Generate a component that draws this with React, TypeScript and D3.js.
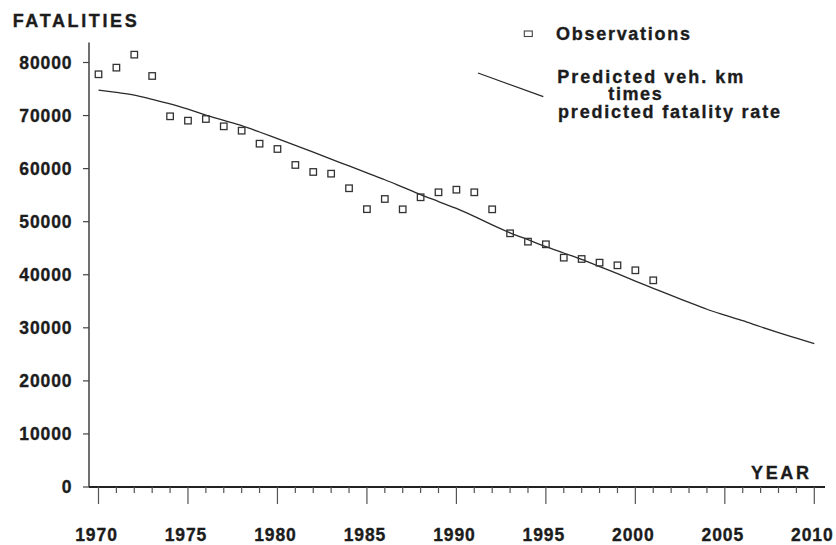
import React from "react";
import * as d3 from "d3";

const obsYears = [
  1970, 1971, 1972, 1973, 1974, 1975, 1976, 1977, 1978, 1979, 1980, 1981, 1982,
  1983, 1984, 1985, 1986, 1987, 1988, 1989, 1990, 1991, 1992, 1993, 1994, 1995,
  1996, 1997, 1998, 1999, 2000, 2001,
];
const obsValues = [
  77780, 79030, 81480, 77460, 69860, 69040, 69350, 67970, 67150, 64700, 63700,
  60690, 59370, 59050, 56300, 52360, 54280, 52330, 54600, 55540, 56030, 55540,
  52330, 47810, 46240, 45740, 43220, 42970, 42280, 41780, 40840, 38950,
];

const predYears = d3.range(1970, 2011);
const predValues = [
  74800, 74350, 73850, 73050, 72200, 71200, 70100, 69100, 68100, 66900, 65650,
  64400, 63100, 61800, 60500, 59200, 57900, 56500, 55100, 53800, 52500, 51000,
  49400, 47900, 46600, 45300, 44100, 42900, 41550, 40200, 38800, 37450, 36100,
  34800, 33500, 32400, 31350, 30200, 29100, 28050, 27000,
];

const yTicks = [0, 10000, 20000, 30000, 40000, 50000, 60000, 70000, 80000];
const xTickYears = d3.range(1970, 2011);
const xLabelYears = [1970, 1975, 1980, 1985, 1990, 1995, 2000, 2005, 2010];

const yTitle = "FATALITIES";
const xTitle = "YEAR";
const legendObs = "Observations";
const legendPred = ["Predicted veh. km", "times", "predicted fatality rate"];

const W = 836;
const H = 545;
const FONT = "'Liberation Sans', Arial, Helvetica, sans-serif";
const INK = "#1c1c1c";

export default function App() {
  const x = d3.scaleLinear().domain([1970, 2010]).range([98.5, 814.3]);
  const y = d3.scaleLinear().domain([0, 80000]).range([487, 62.5]);
  const axisX0 = 89;
  const axisTop = 42.5;
  const axisRight = 825;

  const line = d3
    .line<number>()
    .x((_, i) => x(predYears[i]))
    .y((d) => y(d))
    .curve(d3.curveMonotoneX);

  const sq = 6.5;
  const textStroke = { stroke: INK, strokeWidth: 0.35 };

  return (
    <svg
      width={W}
      height={H}
      style={{ position: "absolute", left: 0, top: 0, background: "#fff" }}
      fontFamily={FONT}
      fontWeight="bold"
    >
      <rect x={0} y={0} width={W} height={H} fill="#fff" />
      {/* Y axis */}
      <line x1={axisX0} x2={axisX0} y1={axisTop} y2={y(0)} stroke="#333" strokeWidth={1.4} />
      {yTicks.map((t) => (
        <g key={"yt" + t}>
          <line x1={axisX0 - 6} x2={axisX0} y1={y(t)} y2={y(t)} stroke="#444" strokeWidth={1.2} />
          <text
            x={72.5}
            y={y(t) + 6.2}
            textAnchor="end"
            fontSize={17.5}
            letterSpacing={0.9}
            fill={INK}
            {...textStroke}
          >
            {t}
          </text>
        </g>
      ))}
      {/* X axis */}
      <line x1={axisX0} x2={axisRight} y1={y(0)} y2={y(0)} stroke="#222" strokeWidth={2} />
      {xTickYears.map((yr) => (
        <line
          key={"xt" + yr}
          x1={x(yr)}
          x2={x(yr)}
          y1={y(0)}
          y2={y(0) + (yr % 5 === 0 ? 17 : 6)}
          stroke="#555"
          strokeWidth={1.2}
        />
      ))}
      {xLabelYears.map((yr) => (
        <text
          key={"xl" + yr}
          x={x(yr) - 2}
          y={540.5}
          textAnchor="middle"
          fontSize={17.5}
          letterSpacing={0.9}
          fill={INK}
          {...textStroke}
        >
          {yr}
        </text>
      ))}
      {/* titles */}
      <text x={12.7} y={26.5} fontSize={18} textLength={124} lengthAdjust="spacing" fill={INK} {...textStroke}>
        {yTitle}
      </text>
      <text x={751} y={479.3} fontSize={18} textLength={58} lengthAdjust="spacing" fill={INK} {...textStroke}>
        {xTitle}
      </text>
      {/* predicted line */}
      <path d={line(predValues) || ""} fill="none" stroke="#2a2a2a" strokeWidth={1.3} />
      {/* observations */}
      {obsValues.map((v, i) => (
        <rect
          key={"o" + i}
          x={x(obsYears[i]) - sq / 2}
          y={y(v) - sq / 2}
          width={sq}
          height={sq}
          fill="none"
          stroke="#333"
          strokeWidth={1.3}
        />
      ))}
      {/* legend */}
      <rect x={524.3} y={31} width={8} height={5.5} fill="none" stroke="#444" strokeWidth={1.1} />
      <text x={556} y={40} fontSize={18} textLength={134} lengthAdjust="spacing" fill={INK} {...textStroke}>
        {legendObs}
      </text>
      <line x1={478} y1={73} x2={543.3} y2={96.7} stroke="#2a2a2a" strokeWidth={1.3} />
      <text x={557.3} y={83.3} fontSize={18} textLength={186} lengthAdjust="spacing" fill={INK} {...textStroke}>
        {legendPred[0]}
      </text>
      <text x={608.3} y={99.8} fontSize={18} textLength={53.4} lengthAdjust="spacing" fill={INK} {...textStroke}>
        {legendPred[1]}
      </text>
      <text x={558} y={118.3} fontSize={18} textLength={222} lengthAdjust="spacing" fill={INK} {...textStroke}>
        {legendPred[2]}
      </text>
    </svg>
  );
}
